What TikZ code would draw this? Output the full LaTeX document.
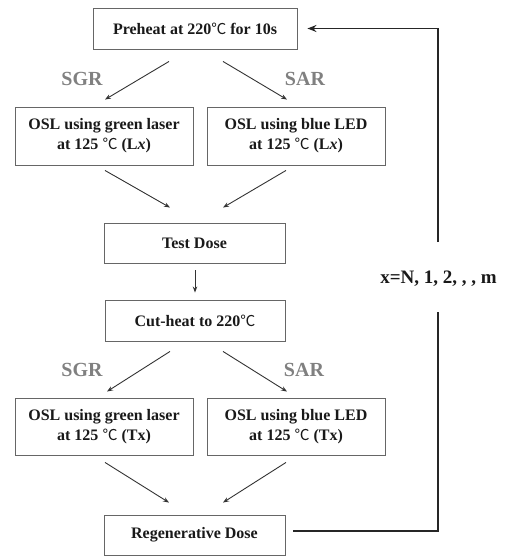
\documentclass[tikz,border=0pt]{standalone}
\usepackage{fontspec}
\setmainfont{Liberation Serif}
\newfontfamily\cjk{Noto Sans CJK SC}
\usetikzlibrary{arrows.meta,calc}
\newcommand{\degC}{{\cjk\mdseries\fontsize{15}{15}\selectfont ℃}}
\begin{document}
\begin{tikzpicture}[x=1pt,y=-1pt,
  box/.style={draw=black!60, line width=0.9pt, fill=white, text=black!90,
    font=\bfseries\fontsize{16}{20}\selectfont, align=center,
    inner sep=0pt, minimum width=#1},
  box/.default=180pt,
  arr/.style={draw=black!80, line width=0.9pt, -{Stealth[length=6pt,width=4.5pt]}},
  lab/.style={text=black!50, font=\bfseries\fontsize{20}{20}\selectfont},
  loop/.style={draw=black!85, line width=1.3pt}]
\useasboundingbox (0,0) rectangle (507,557);

\node[box=204pt, minimum height=41pt] (pre) at (195,28.5) {Preheat at 220\degC\ for 10s};
\node[box=178pt, minimum height=58pt] (lg) at (104,136) {OSL using green laser\\at 125 \degC\ (L\textit{x})};
\node[box=178pt, minimum height=58pt] (lb) at (296,136) {OSL using blue LED\\at 125 \degC\ (L\textit{x})};
\node[box=181pt, minimum height=40pt] (td) at (194.5,243) {Test Dose};
\node[box=180pt, minimum height=41pt] (ch) at (195,320.5) {Cut-heat to 220\degC};
\node[box=178pt, minimum height=57pt] (tg) at (104,426.5) {OSL using green laser\\at 125 \degC\ (Tx)};
\node[box=178pt, minimum height=57pt] (tb) at (296,426.5) {OSL using blue LED\\at 125 \degC\ (Tx)};
\node[box=181pt, minimum height=40pt] (rd) at (194.5,535) {Regenerative Dose};

\node[lab] (sgr1) at (82,79) {SGR};
\node[lab] (sar1) at (305,79) {SAR};
\node[lab] (sgr2) at (82,370) {SGR};
\node[lab] (sar2) at (304,370) {SAR};
\node[font=\bfseries\fontsize{19}{19}\selectfont, text=black!90] (xl) at (438.5,279) {x=N, 1, 2, , , m};

\draw[arr] ($(pre.south)+(-26,12)$) -- ($(lg.north)+(1,-7)$);
\draw[arr] ($(pre.south)+(28,12)$) -- ($(lb.north)+(-9,-7)$);
\draw[arr] ($(lg.south)+(1,5)$) -- ($(td.north)+(-24.5,-15)$);
\draw[arr] ($(lb.south)+(-10,5)$) -- ($(td.north)+(28.5,-15)$);
\draw[arr] ($(td.south)+(0.5,7)$) -- ($(ch.north)+(0,-7)$);
\draw[arr] ($(ch.south)+(-25,10)$) -- ($(tg.north)+(3,-6)$);
\draw[arr] ($(ch.south)+(28,10)$) -- ($(tb.north)+(-9,-6)$);
\draw[arr] ($(tg.south)+(1,7)$) -- ($(rd.north)+(-25.5,-12)$);
\draw[arr] ($(tb.south)+(-10,7)$) -- ($(rd.north)+(28.5,-12)$);

\coordinate (lb1) at (438,312);
\coordinate (lt1) at (438,242);
\coordinate (ltop) at (438,28.5);
\draw[loop] ($(rd.east)+(8,-4)$) -- (lb1 |- {$(rd.east)+(8,-4)$}) -- (lb1);
\draw[loop, -{Stealth[length=9pt,width=7pt]}] (lt1) -- (ltop) -- ($(pre.east)+(10,0)$);
\end{tikzpicture}
\end{document}
